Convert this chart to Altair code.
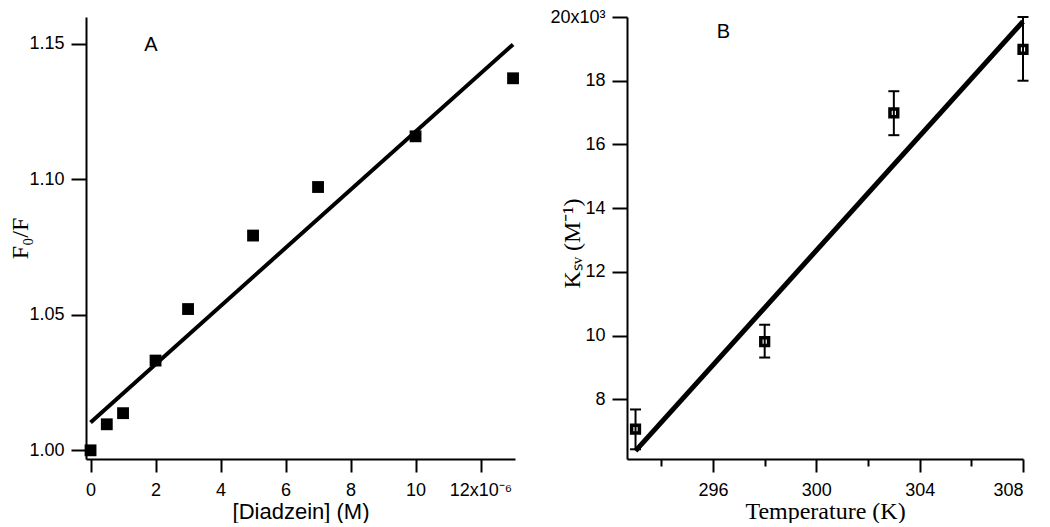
import altair as alt
import pandas as pd

# ---------------- Panel A data ----------------
conc = [0, 0.5, 1, 2, 3, 5, 7, 10, 13]          # x 10^-6 M
f0_over_f = [1.000, 1.0096, 1.0137, 1.0331, 1.0521, 1.0792, 1.0971, 1.1158, 1.1372]
fit_a_x = [0, 13]
fit_a_y = [1.0103, 1.1497]
a_x_ticks = [0, 2, 4, 6, 8, 10, 12]
a_y_ticks = [1.00, 1.05, 1.10, 1.15]

# ---------------- Panel B data ----------------
temps = [293, 298, 303, 308]
ksv = [7.06, 9.81, 16.99, 18.98]                  # x 10^3 M^-1
ksv_lo = [6.43, 9.31, 16.29, 18.0]
ksv_hi = [7.68, 10.34, 17.67, 20.0]
fit_b_x = [293, 308]
fit_b_y = [6.38, 19.86]
b_x_ticks = [294, 296, 298, 300, 302, 304, 306, 308]
b_y_ticks = [8, 10, 12, 14, 16, 18, 20]

dfa = pd.DataFrame({"x": conc, "y": f0_over_f})
dfa_fit = pd.DataFrame({"x": fit_a_x, "y": fit_a_y})
dfa_lab = pd.DataFrame({"x": [1.86], "y": [1.1495], "t": ["A"]})

dfb = pd.DataFrame({"x": temps, "y": ksv, "lo": ksv_lo, "hi": ksv_hi})
dfb_fit = pd.DataFrame({"x": fit_b_x, "y": fit_b_y})
dfb_lab = pd.DataFrame({"x": [296.4], "y": [19.53], "t": ["B"]})

common = dict(domainColor="black", domainWidth=2, tickColor="black", tickWidth=2,
              grid=False, labelColor="black", labelFont="Liberation Sans",
              labelFontSize=18, titleColor="black", titleFontWeight="normal")

ax_a_x = alt.Axis(values=a_x_ticks, tickSize=13, labelPadding=9,
                  labelExpr="datum.value == 12 ? '12x10⁻⁶' : datum.label",
                  title="[Diadzein] (M)", titleFont="Liberation Sans", titleFontSize=22,
                  titlePadding=2, **common)
ax_a_y = alt.Axis(values=a_y_ticks, format=".2f", tickSize=15, labelPadding=7,
                  title="F₀/F", titleFont="Liberation Serif", titleFontSize=24,
                  titlePadding=-4, **common)

xa = alt.X("x:Q", scale=alt.Scale(domain=[-0.14, 13.06], nice=False, zero=False), axis=ax_a_x)
ya = alt.Y("y:Q", scale=alt.Scale(domain=[0.9968, 1.1598], nice=False, zero=False), axis=ax_a_y)

a_pts = alt.Chart(dfa).mark_square(size=140, color="black", opacity=1).encode(x=xa, y=ya)
a_fit = alt.Chart(dfa_fit).mark_line(color="black", strokeWidth=4).encode(x=xa, y=ya)
a_txt = alt.Chart(dfa_lab).mark_text(font="Liberation Sans", fontSize=20, color="black").encode(
    x=xa, y=ya, text="t:N")
panel_a = alt.layer(a_fit, a_pts, a_txt).properties(width=429, height=442)

ax_b_x = alt.Axis(values=b_x_ticks, labelPadding=9,
                  tickSize={"condition": {"test": "datum.value % 4 == 0", "value": 13}, "value": 7},
                  labelExpr="datum.value % 4 == 0 ? datum.label : ''",
                  title="Temperature (K)", titleFont="Liberation Serif", titleFontSize=24,
                  titlePadding=0, **common)
ax_b_y = alt.Axis(values=b_y_ticks, tickSize=15, labelPadding=7,
                  labelExpr="datum.value == 20 ? '20x10³' : datum.label",
                  title="Kₛᵥ (M⁻¹)", titleFont="Liberation Serif", titleFontSize=24,
                  titleX=-43, titleY=226, **common)

xb = alt.X("x:Q", scale=alt.Scale(domain=[292.67, 308], nice=False, zero=False), axis=ax_b_x)
b_yscale = alt.Scale(domain=[6.125, 20], nice=False, zero=False)


def yb(field):
    return alt.Y(field=field, type="quantitative", scale=b_yscale, axis=ax_b_y)


b_rule = alt.Chart(dfb).mark_rule(color="black", strokeWidth=2).encode(x=xb, y=yb("lo"), y2="hi:Q")
b_cap_lo = alt.Chart(dfb).mark_tick(orient="horizontal", size=11, thickness=2, color="black",
                                    opacity=1).encode(x=xb, y=yb("lo"))
b_cap_hi = alt.Chart(dfb).mark_tick(orient="horizontal", size=11, thickness=2, color="black",
                                    opacity=1).encode(x=xb, y=yb("hi"))
b_fit = alt.Chart(dfb_fit).mark_line(color="black", strokeWidth=5).encode(x=xb, y=yb("y"))
b_pts = alt.Chart(dfb).mark_point(shape="square", size=60, filled=False, strokeWidth=3.5,
                                  color="black", opacity=1).encode(x=xb, y=yb("y"))
b_txt = alt.Chart(dfb_lab).mark_text(font="Liberation Sans", fontSize=20, color="black").encode(
    x=xb, y=yb("y"), text="t:N")
panel_b = alt.layer(b_rule, b_cap_lo, b_cap_hi, b_fit, b_pts, b_txt).properties(width=396, height=442)

chart = alt.hconcat(panel_a, panel_b, spacing=27).configure_view(stroke=None).properties(
    padding={"left": 0, "top": 0, "right": 0, "bottom": 0}, background="white")

chart.save("out.html", embed_options={"renderer": "svg", "actions": False})
